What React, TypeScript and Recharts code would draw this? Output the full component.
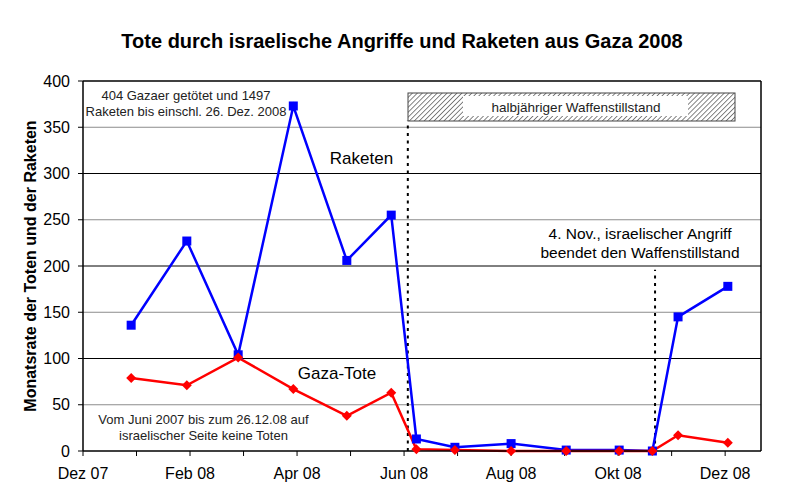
import { LineChart, Line, XAxis, YAxis, ReferenceLine } from "recharts";

// x positions in months since start of Dec 2007 (tick 0 = "Dez 07")
const POINT_MONTHS = [0.9, 1.94, 2.9, 3.93, 4.93, 5.76, 6.23, 6.95, 8.0, 9.03, 10.02, 10.64, 11.12, 12.05];
const RAKETEN = [136, 227, 104, 373, 206, 255, 13, 4, 8, 1, 1, 0, 145, 178];
const GAZA_TOTE = [79, 71, 101, 67, 38, 63, 2, 1, 0, 0, 0, 0, 17, 9];

const MONTH_TICKS = [0, 1, 2, 3, 4, 5, 6, 7, 8, 9, 10, 11, 12];
const MONTH_LABELS = ["Dez 07", "", "Feb 08", "", "Apr 08", "", "Jun 08", "", "Aug 08", "", "Okt 08", "", "Dez 08"];
const Y_TICKS = [0, 50, 100, 150, 200, 250, 300, 350, 400];
const X_MAX = 12.67;

// start of ceasefire (June) and its end (4. Nov.)
const CEASEFIRE_START = 6.07;
const CEASEFIRE_END = 10.69;

const FONT = '"Liberation Sans", Arial, sans-serif';

const data = POINT_MONTHS.map((m, i) => ({ m, raketen: RAKETEN[i], tote: GAZA_TOTE[i] }));

function SquareDot({ cx, cy }: { cx?: number; cy?: number }) {
  if (cx == null || cy == null) return null;
  return <rect x={cx - 4.5} y={cy - 4.5} width={9} height={9} fill="#0000ff" />;
}

function DiamondDot({ cx, cy }: { cx?: number; cy?: number }) {
  if (cx == null || cy == null) return null;
  const r = 5;
  return <polygon points={`${cx},${cy - r} ${cx + r},${cy} ${cx},${cy + r} ${cx - r},${cy}`} fill="#ff0000" />;
}

export default function App() {
  return (
    <div style={{ position: "absolute", left: 0, top: 0, width: 801, height: 500, background: "#fff", fontFamily: FONT }}>
      <LineChart width={801} height={500} data={data} margin={{ top: 81, right: 40, bottom: 19, left: 23 }}>
        {Y_TICKS.slice(1, -1).map((v) => (
          <ReferenceLine key={v} y={v} stroke={v % 100 === 0 ? "#000" : "#8c8c8c"} strokeWidth={1} />
        ))}
        <ReferenceLine y={400} stroke="#000" strokeWidth={1.5} />
        <ReferenceLine x={X_MAX} stroke="#000" strokeWidth={1.5} />
        <ReferenceLine
          segment={[{ x: CEASEFIRE_START, y: 0 }, { x: CEASEFIRE_START, y: 357 }]}
          stroke="#000"
          strokeWidth={2}
          strokeDasharray="3 4.5"
        />
        <ReferenceLine
          segment={[{ x: CEASEFIRE_END, y: 0 }, { x: CEASEFIRE_END, y: 196 }]}
          stroke="#000"
          strokeWidth={2}
          strokeDasharray="3 4.5"
        />
        <XAxis
          dataKey="m"
          type="number"
          domain={[0, X_MAX]}
          ticks={MONTH_TICKS}
          interval={0}
          tickFormatter={(v: number) => MONTH_LABELS[v] ?? ""}
          height={30}
          tickSize={5}
          tickMargin={12}
          axisLine={{ stroke: "#000", strokeWidth: 1.5 }}
          tickLine={{ stroke: "#000" }}
          tick={{ fill: "#000", fontSize: 16, fontFamily: FONT }}
          allowDataOverflow
        />
        <YAxis
          domain={[0, 400]}
          ticks={Y_TICKS}
          interval={0}
          width={60}
          tickSize={5}
          tickMargin={8}
          axisLine={{ stroke: "#000", strokeWidth: 1.5 }}
          tickLine={{ stroke: "#000" }}
          tick={{ fill: "#000", fontSize: 16, fontFamily: FONT }}
        />
        <Line
          dataKey="raketen"
          stroke="#0000ff"
          strokeWidth={2.5}
          dot={<SquareDot />}
          activeDot={false}
          isAnimationActive={false}
        />
        <Line
          dataKey="tote"
          stroke="#ff0000"
          strokeWidth={2.5}
          dot={<DiamondDot />}
          activeDot={false}
          isAnimationActive={false}
        />
      </LineChart>
      <svg
        width={801}
        height={500}
        style={{ position: "absolute", left: 0, top: 0, pointerEvents: "none" }}
        fontFamily={FONT}
      >
        <defs>
          <pattern id="hatch" width="3.5" height="3.5" patternUnits="userSpaceOnUse" patternTransform="rotate(45)">
            <line x1="0" y1="0" x2="0" y2="3.5" stroke="#333" strokeWidth="1.2" />
          </pattern>
        </defs>
        <text x={402} y={48} textAnchor="middle" fontSize={20} fontWeight="bold" fill="#000">
          Tote durch israelische Angriffe und Raketen aus Gaza 2008
        </text>
        <text
          x={30}
          y={266}
          transform="rotate(-90 30 266)"
          textAnchor="middle"
          dominantBaseline="central"
          fontSize={16}
          fontWeight="bold"
          fill="#000"
        >
          Monatsrate der Toten und der Raketen
        </text>
        <text x={186} y={100} textAnchor="middle" fontSize={13} fill="#222">
          404 Gazaer getötet und 1497
        </text>
        <text x={186} y={116} textAnchor="middle" fontSize={13} fill="#222">
          Raketen bis einschl. 26. Dez. 2008
        </text>
        <rect x={408} y={93} width={327} height={28} fill="url(#hatch)" stroke="#444" strokeWidth={1} />
        <rect x={463} y={96} width={225} height={20} fill="#fff" />
        <text x={576} y={111.5} textAnchor="middle" fontSize={13.5} fill="#222">
          halbjähriger Waffenstillstand
        </text>
        <text x={361.5} y={164} textAnchor="middle" fontSize={17} fill="#000">
          Raketen
        </text>
        <text x={337} y={379} textAnchor="middle" fontSize={17} fill="#000">
          Gaza-Tote
        </text>
        <text x={640} y={239} textAnchor="middle" fontSize={15.5} fill="#000">
          4. Nov., israelischer Angriff
        </text>
        <text x={640} y={258} textAnchor="middle" fontSize={15.5} fill="#000">
          beendet den Waffenstillstand
        </text>
        <text x={203.5} y={424} textAnchor="middle" fontSize={13} fill="#222">
          Vom Juni 2007 bis zum 26.12.08 auf
        </text>
        <text x={203.5} y={440} textAnchor="middle" fontSize={13} fill="#222">
          israelischer Seite keine Toten
        </text>
      </svg>
    </div>
  );
}
